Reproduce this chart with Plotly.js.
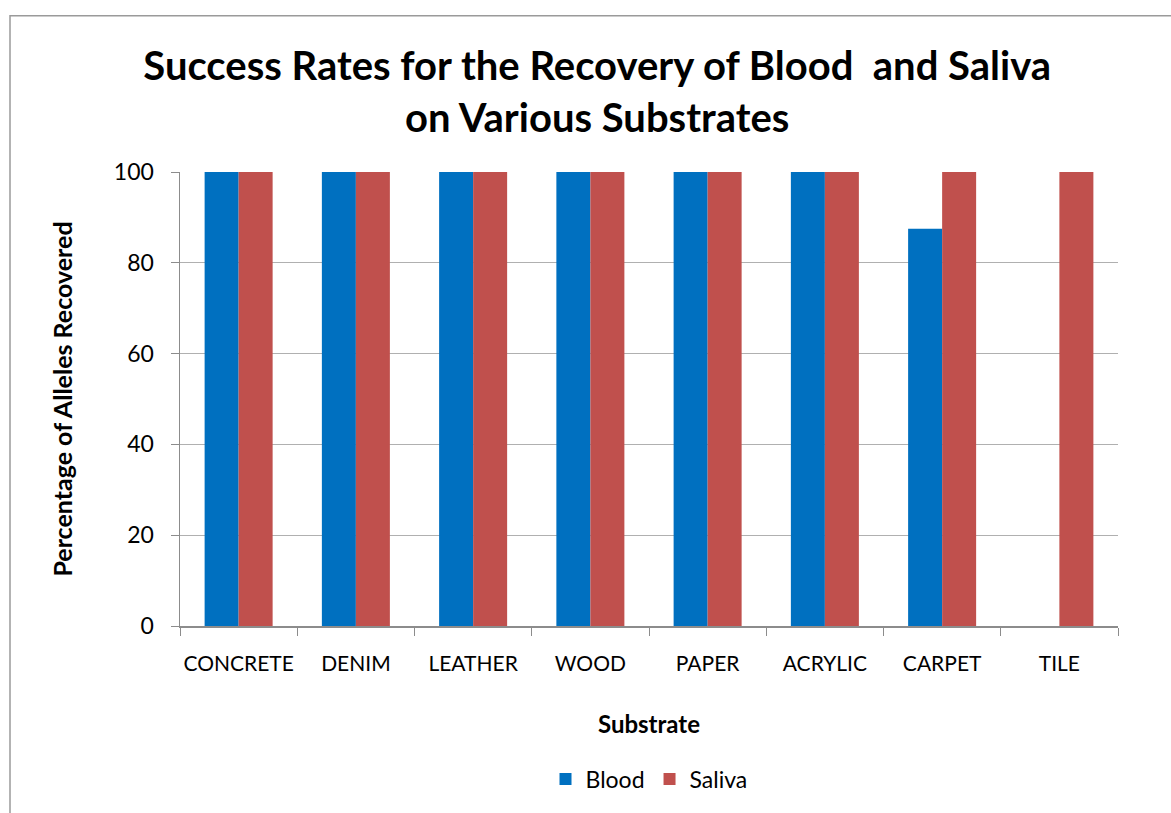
<!DOCTYPE html>
<html>
<head>
<meta charset="utf-8">
<script src="https://cdn.plot.ly/plotly-3.0.1.min.js"></script>
<style>html,body{margin:0;padding:0;background:#fff;}#chart{width:1171px;height:813px;}</style>
</head>
<body>
<div id="chart"></div>
<script>
const categories = ["CONCRETE","DENIM","LEATHER","WOOD","PAPER","ACRYLIC","CARPET","TILE"];
const blood = [100,100,100,100,100,100,87.5,0];
const saliva = [100,100,100,100,100,100,100,100];
const yTicks = [0,20,40,60,80,100];

const FONT = "Lato, Carlito, 'Open Sans', sans-serif";
const traces = [
  {type:"bar", name:"Blood", x:categories, y:blood, marker:{color:"#0070C0"}},
  {type:"bar", name:"Saliva", x:categories, y:saliva, marker:{color:"#C0504D"}}
];
const layout = {
  width:1171, height:813,
  margin:{l:180, r:53, t:172, b:185},
  paper_bgcolor:"#fff", plot_bgcolor:"#fff",
  font:{family:FONT, color:"#000", size:22},
  barmode:"group", bargap:0.42, bargroupgap:0,
  title:{text:"<b>Success Rates for the Recovery of Blood  and Saliva<br>on Various Substrates</b>",
    font:{size:40, family:FONT, color:"#000"}, x:0.51, xanchor:"center", y:0.902, yanchor:"top"},
  xaxis:{type:"category", showline:true, linecolor:"#8c8c8c", linewidth:1.5,
    ticks:"outside", tickson:"boundaries", ticklen:8, tickcolor:"#8c8c8c",
    ticklabelstandoff:18, tickangle:0,
    tickfont:{size:21, family:FONT}, showgrid:false,
    title:{text:"<b>Substrate</b>", font:{size:24, family:FONT}, standoff:42}},
  yaxis:{range:[0,100], tickvals:yTicks, showline:true, linecolor:"#8c8c8c", linewidth:1.5,
    ticks:"outside", ticklen:8, tickcolor:"#8c8c8c", ticklabelstandoff:12,
    showgrid:true, gridcolor:"#b0b0b0", gridwidth:1.4, zeroline:false,
    tickfont:{size:23, family:FONT},
    title:{text:"<b>Percentage of Alleles Recovered</b>", font:{size:25, family:FONT}, standoff:34}},
  legend:{orientation:"h", x:0.5, xanchor:"center", y:-0.29, yanchor:"top",
    font:{size:23, family:FONT}, itemwidth:30},
  shapes:[{type:"rect", xref:"paper", yref:"paper",
    x0:(10-180)/938, x1:(1300-180)/938, y0:(628-900)/456, y1:(628-15)/456,
    line:{color:"#9a9a9a", width:1.5}, fillcolor:"rgba(0,0,0,0)", layer:"below"}]
};
Plotly.newPlot("chart", traces, layout, {displayModeBar:false, staticPlot:true});
</script>
</body>
</html>
